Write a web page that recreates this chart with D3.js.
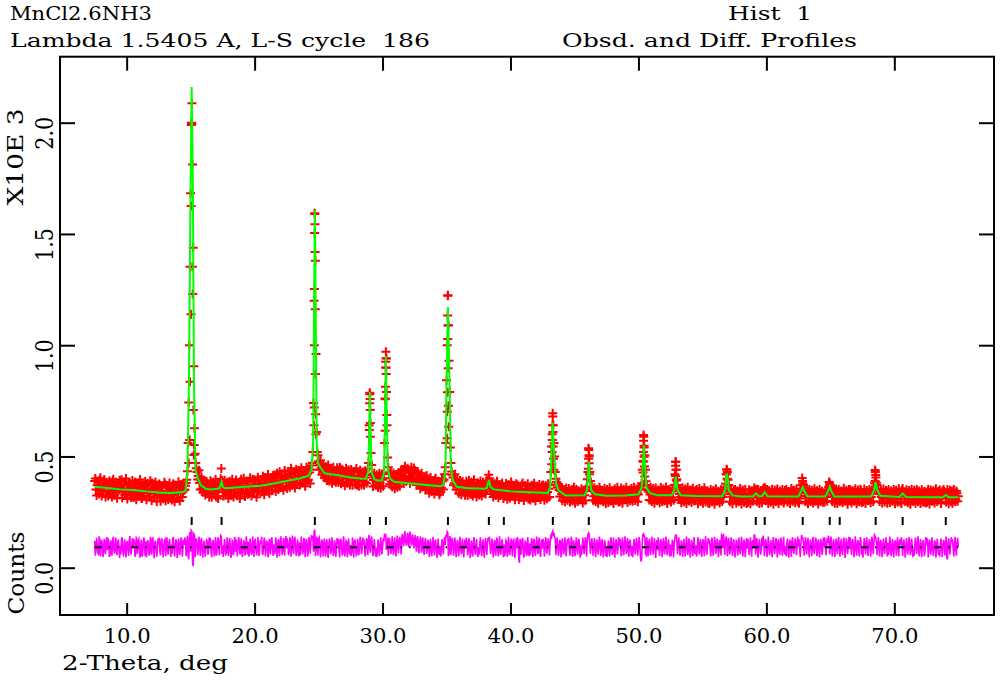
<!DOCTYPE html>
<html>
<head>
<meta charset="utf-8">
<script src="https://cdn.jsdelivr.net/npm/d3@7"></script>
<style>
  body { margin: 0; background: #fff; }
  text { font-family: "DejaVu Serif", "Liberation Serif", serif; white-space: pre; fill: #000; }
</style>
</head>
<body>
<script>
// 2-theta range and counts range of the frame
const tthMin = 4.79, tthMax = 77.79;
const cntMin = -212.6, cntMax = 2296.6;

// observed counts, one row per degree, 0.1 deg step, rows start at 7.5, 8.5, ...
const obsStart = 7.5, obsStep = 0.1;
const obsRows = [
  [390, 352, 371, 348, 395, 360, 377, 341, 366, 384],
  [345, 372, 330, 361, 388, 352, 367, 339, 376, 349],
  [362, 395, 341, 356, 328, 371, 350, 383, 337, 360],
  [344, 369, 323, 358, 377, 339, 352, 311, 366, 348],
  [372, 336, 355, 320, 347, 381, 333, 359, 342, 326],
  [351, 318, 366, 340, 329, 374, 345, 322, 357, 333],
  [348, 371, 326, 343, 360, 315, 352, 338, 365, 341],
  [352, 368, 395, 560, 1000, 1683, 2087, 1438, 627, 470],
  [430, 412, 381, 398, 355, 372, 340, 361, 377, 336],
  [358, 329, 370, 349, 362, 318, 375, 352, 380, 446],
  [366, 341, 359, 330, 372, 348, 363, 327, 381, 352],
  [339, 370, 356, 384, 333, 361, 348, 379, 342, 366],
  [387, 351, 372, 340, 364, 395, 358, 343, 376, 361],
  [382, 347, 371, 398, 360, 386, 352, 377, 405, 369],
  [391, 364, 402, 380, 371, 410, 388, 362, 399, 415],
  [383, 408, 372, 421, 396, 385, 430, 401, 376, 412],
  [425, 398, 417, 389, 436, 404, 420, 395, 428, 440],
  [470, 740, 1590, 960, 520, 478, 462, 449, 441, 430],
  [410, 436, 398, 429, 442, 405, 420, 391, 433, 416],
  [428, 395, 447, 410, 384, 422, 401, 436, 412, 393],
  [419, 388, 405, 431, 396, 372, 414, 403, 425, 390],
  [412, 386, 405, 421, 470, 780, 515, 417, 394, 408],
  [386, 371, 399, 382, 403, 395, 428, 760, 940, 495],
  [421, 402, 386, 410, 393, 378, 404, 389, 415, 398],
  [420, 401, 433, 408, 395, 441, 412, 426, 399, 417],
  [404, 389, 421, 376, 398, 410, 384, 365, 392, 379],
  [358, 386, 370, 347, 381, 362, 394, 353, 368, 340],
  [375, 359, 388, 395, 452, 842, 1225, 930, 540, 432],
  [405, 379, 392, 366, 381, 352, 374, 360, 339, 368],
  [351, 377, 343, 362, 330, 359, 371, 346, 364, 338],
  [357, 372, 349, 363, 336, 368, 355, 377, 418, 372],
  [343, 361, 329, 355, 370, 338, 350, 324, 362, 345],
  [356, 331, 367, 340, 322, 352, 344, 371, 329, 348],
  [335, 360, 318, 349, 372, 337, 326, 354, 341, 309],
  [356, 330, 345, 368, 321, 347, 338, 360, 315, 343],
  [329, 352, 337, 361, 340, 355, 372, 545, 694, 560],
  [430, 385, 362, 349, 367, 331, 344, 318, 339, 327],
  [341, 312, 329, 350, 319, 305, 336, 322, 345, 316],
  [332, 319, 343, 326, 351, 398, 537, 430, 362, 345],
  [321, 338, 310, 334, 327, 349, 306, 330, 318, 341],
  [325, 309, 337, 318, 344, 302, 331, 320, 339, 314],
  [328, 347, 311, 333, 322, 340, 307, 326, 349, 318],
  [331, 316, 343, 325, 338, 329, 352, 366, 440, 596],
  [505, 388, 352, 341, 329, 346, 318, 337, 323, 340],
  [312, 333, 321, 347, 308, 329, 340, 316, 335, 322],
  [338, 315, 344, 372, 476, 398, 352, 331, 318, 340],
  [312, 335, 321, 346, 307, 329, 318, 339, 326, 301],
  [331, 315, 342, 323, 308, 336, 319, 345, 312, 328],
  [337, 317, 330, 303, 325, 341, 314, 333, 322, 310],
  [329, 318, 341, 377, 442, 395, 347, 331, 319, 336],
  [311, 328, 342, 305, 324, 317, 338, 309, 330, 321],
  [313, 335, 318, 327, 344, 322, 338, 351, 316, 329],
  [319, 308, 326, 335, 356, 331, 316, 327, 305, 322],
  [338, 312, 325, 343, 306, 321, 334, 317, 329, 300],
  [324, 340, 315, 331, 319, 346, 309, 327, 336, 318],
  [325, 311, 343, 403, 372, 336, 322, 340, 314, 329],
  [317, 335, 304, 326, 343, 312, 329, 320, 338, 308],
  [323, 334, 318, 347, 385, 370, 339, 321, 331, 310],
  [326, 343, 315, 330, 307, 322, 339, 318, 333, 324],
  [311, 328, 342, 320, 305, 333, 317, 336, 325, 346],
  [314, 330, 321, 339, 308, 327, 341, 318, 333, 352],
  [439, 382, 346, 331, 339, 318, 329, 311, 334, 322],
  [340, 315, 327, 306, 331, 319, 344, 312, 325, 337],
  [329, 348, 339, 321, 310, 332, 317, 338, 302, 326],
  [314, 331, 320, 341, 306, 325, 312, 336, 318, 298],
  [329, 343, 311, 324, 335, 309, 320, 339, 315, 328],
  [306, 333, 319, 327, 342, 322, 312, 337, 318, 330],
  [344, 313, 326, 309, 335, 321]
];

// the in-between observed points, rows start at 7.55, 8.55, ...
const obsStartB = 7.55;
const obsRowsB = [
  [401, 325, 388, 331, 404, 322, 359, 396, 318, 379],
  [322, 391, 345, 318, 397, 326, 384, 312, 366, 393],
  [389, 314, 372, 328, 401, 309, 381, 339, 316, 392],
  [316, 384, 305, 379, 331, 396, 312, 373, 322, 387],
  [305, 378, 319, 391, 302, 366, 314, 385, 297, 371],
  [376, 299, 362, 310, 384, 301, 369, 306, 381, 311],
  [304, 377, 296, 369, 312, 386, 300, 374, 318, 380],
  [349, 381, 433, 742, 1353, 1990, 1812, 905, 512, 447],
  [396, 438, 352, 405, 339, 393, 327, 387, 345, 318],
  [391, 317, 384, 330, 396, 341, 311, 377, 400, 392],
  [322, 393, 335, 384, 311, 389, 326, 398, 318, 375],
  [394, 323, 381, 311, 397, 336, 402, 320, 388, 330],
  [331, 404, 322, 397, 339, 388, 317, 406, 344, 395],
  [340, 411, 328, 405, 352, 419, 334, 398, 346, 414],
  [417, 343, 425, 352, 431, 360, 414, 348, 437, 366],
  [356, 432, 362, 447, 371, 425, 358, 441, 378, 438],
  [372, 449, 381, 437, 366, 452, 389, 444, 378, 459],
  [520, 1200, 1380, 610, 505, 440, 482, 418, 466, 404],
  [455, 392, 461, 388, 447, 379, 452, 401, 384, 449],
  [383, 451, 377, 440, 426, 368, 447, 380, 439, 372],
  [441, 370, 433, 375, 446, 429, 366, 438, 372, 430],
  [372, 436, 380, 445, 640, 650, 462, 365, 425, 371],
  [418, 360, 424, 357, 421, 366, 560, 900, 640, 452],
  [375, 431, 364, 426, 355, 419, 362, 428, 366, 436],
  [441, 378, 456, 389, 447, 432, 380, 452, 391, 448],
  [437, 372, 431, 398, 355, 424, 364, 406, 349, 414],
  [398, 335, 405, 342, 391, 331, 402, 346, 389, 328],
  [340, 402, 352, 420, 560, 1000, 1090, 790, 470, 418],
  [371, 420, 350, 398, 333, 392, 328, 389, 372, 326],
  [388, 324, 392, 331, 384, 322, 395, 336, 318, 381],
  [327, 390, 322, 384, 371, 331, 393, 380, 402, 352],
  [383, 318, 379, 325, 388, 314, 372, 334, 381, 311],
  [320, 378, 308, 374, 313, 385, 323, 366, 305, 377],
  [372, 307, 366, 315, 381, 302, 369, 318, 377, 311],
  [304, 371, 312, 379, 300, 366, 315, 374, 306, 368],
  [372, 303, 369, 310, 377, 318, 430, 600, 640, 500],
  [400, 360, 376, 320, 358, 301, 352, 296, 358, 303],
  [356, 295, 348, 301, 361, 290, 353, 298, 344, 304],
  [355, 291, 349, 302, 360, 430, 500, 390, 365, 303],
  [359, 297, 352, 290, 361, 304, 348, 296, 357, 289],
  [352, 293, 359, 300, 346, 288, 355, 303, 361, 295],
  [298, 358, 290, 351, 306, 362, 293, 347, 301, 356],
  [299, 361, 302, 355, 296, 363, 355, 380, 480, 540],
  [440, 372, 349, 304, 362, 298, 356, 290, 358, 302],
  [349, 292, 360, 297, 354, 301, 363, 289, 351, 305],
  [295, 357, 303, 420, 440, 372, 306, 355, 292, 359],
  [296, 354, 288, 361, 300, 349, 293, 357, 302, 346],
  [351, 287, 356, 297, 348, 290, 359, 295, 345, 292],
  [289, 352, 296, 347, 285, 355, 300, 344, 291, 350],
  [297, 349, 360, 420, 430, 372, 296, 353, 287, 349],
  [351, 290, 345, 298, 356, 286, 349, 294, 353, 288],
  [293, 350, 287, 346, 300, 358, 345, 296, 352, 289],
  [347, 292, 355, 362, 301, 351, 288, 346, 294, 353],
  [286, 349, 297, 354, 289, 345, 300, 352, 291, 347],
  [351, 295, 343, 288, 356, 299, 348, 292, 355, 297],
  [290, 353, 370, 380, 360, 296, 349, 287, 351, 298],
  [348, 291, 355, 299, 346, 286, 352, 297, 344, 293],
  [295, 350, 300, 362, 380, 362, 296, 349, 290, 354],
  [288, 352, 298, 345, 292, 357, 300, 348, 285, 351],
  [350, 291, 346, 299, 355, 287, 349, 296, 353, 293],
  [296, 354, 289, 347, 301, 352, 292, 349, 298, 380],
  [417, 372, 352, 298, 349, 291, 354, 295, 347, 290],
  [351, 293, 345, 299, 352, 287, 348, 294, 355, 296],
  [289, 356, 340, 297, 350, 292, 347, 285, 353, 299],
  [348, 290, 352, 296, 345, 288, 350, 294, 343, 291],
  [294, 353, 286, 349, 299, 346, 291, 355, 297, 344],
  [349, 289, 344, 352, 339, 295, 351, 287, 348, 296],
  [290, 352, 297, 345, 299]
];

const obsPeakPts = [
  [15.06, 2000], [15.09, 1995], [15.04, 1626], [15.14, 1353], [15.03, 1139], [15.16, 1230],
  [14.95, 836], [15.22, 709], [14.92, 574], [15.25, 506], [14.85, 470], [15.27, 551],
  [24.70, 1593], [24.72, 1544], [24.69, 1504], [24.73, 1419], [24.68, 1252], [24.74, 1162],
  [24.67, 1000], [24.75, 870], [24.66, 720], [24.77, 690], [24.64, 640], [24.79, 600],
  [29.00, 786], [29.03, 758], [28.99, 739], [29.04, 709], [28.97, 619], [29.05, 589],
  [30.26, 971], [30.28, 941], [30.25, 926], [30.27, 899], [30.29, 870], [30.22, 813],
  [30.31, 790], [30.21, 757], [30.33, 686], [30.20, 616],
  [35.11, 1222], [35.09, 1134], [35.12, 1088], [35.10, 1028], [35.13, 896], [35.07, 788],
  [35.15, 728], [35.06, 701], [35.17, 634], [35.05, 582],
  [43.30, 680], [43.28, 640], [43.32, 610], [43.27, 574], [43.34, 545], [43.25, 520],
  [43.36, 490], [43.23, 465], [43.39, 440],
  [46.12, 529], [46.14, 505], [46.10, 490], [46.15, 469], [46.09, 445], [46.17, 420],
  [50.42, 589], [50.40, 570], [50.44, 548], [50.39, 520], [50.45, 499], [50.38, 476],
  [50.47, 455], [50.36, 428], [50.49, 410],
  [52.92, 476], [52.90, 458], [52.94, 440], [52.89, 412], [52.96, 392],
  [56.90, 440], [56.88, 420], [56.93, 400],
  [62.83, 390], [64.96, 372],
  [68.52, 430], [68.56, 405], [68.50, 390]
];

// calculated profile [2theta, counts]
const calcPts = [
  [7.5, 364], [8.5, 358], [9.5, 352], [10.5, 349], [11.5, 343], [12.5, 338], [13.5, 336], [14.4, 340],
  [14.6, 345], [14.75, 430], [14.87, 840], [14.99, 1680], [15.08, 2160], [15.18, 1680], [15.26, 840],
  [15.38, 440], [15.57, 400], [15.81, 370],
  [16.2, 355], [16.6, 352], [17.2, 356], [17.3, 365], [17.42, 387], [17.52, 362], [17.7, 357],
  [18.5, 360], [19.5, 365], [20.5, 368], [21.5, 378], [22.5, 390], [23.5, 401], [24.2, 412],
  [24.45, 440], [24.58, 570], [24.65, 1200], [24.71, 1606], [24.77, 1200], [24.85, 570],
  [24.95, 470], [25.15, 450], [25.45, 425],
  [26.5, 416], [27.5, 405], [28.3, 401], [28.7, 400],
  [28.88, 430], [28.95, 600], [29.01, 790], [29.07, 600], [29.15, 430], [29.35, 398], [29.6, 392],
  [29.95, 392], [30.12, 430], [30.19, 680], [30.26, 950], [30.33, 680], [30.41, 440], [30.6, 400], [30.9, 386],
  [32, 380], [33, 374], [34.5, 366], [34.75, 372],
  [34.92, 440], [34.99, 800], [35.11, 1170], [35.25, 800], [35.33, 460], [35.5, 390], [35.8, 364],
  [36.5, 358], [37.9, 355], [38.15, 358], [38.31, 394], [38.45, 362], [38.7, 352], [40, 343], [41, 340], [42.9, 336],
  [43.10, 360], [43.18, 476], [43.29, 652], [43.45, 476], [43.55, 380], [43.75, 348], [44.3, 324],
  [45.8, 326], [45.98, 350], [46.05, 410], [46.12, 476], [46.2, 410], [46.3, 350], [46.6, 330],
  [47.5, 323], [49, 324], [50, 330], [50.25, 360], [50.33, 450], [50.42, 551], [50.52, 450],
  [50.62, 360], [50.9, 335], [51.5, 326],
  [52.6, 326], [52.8, 350], [52.92, 409], [53.05, 350], [53.3, 326], [54.5, 322], [56.55, 321],
  [56.78, 350], [56.84, 400], [56.9, 424], [56.98, 400], [57.05, 350], [57.35, 325], [58.0, 320],
  [58.95, 320], [59.17, 334], [59.4, 321], [59.65, 322], [59.87, 339], [60.1, 321], [62.5, 320],
  [62.72, 345], [62.84, 361], [62.96, 345], [63.2, 321], [64.6, 320], [64.83, 345], [64.95, 364],
  [65.07, 345], [65.3, 320], [68.2, 320],
  [68.42, 350], [68.54, 384], [68.66, 350], [68.9, 323], [70.4, 318], [70.65, 334], [70.9, 318],
  [73.8, 317], [74.02, 327], [74.25, 317], [75, 317]
];

// obs - calc, same grid as obsRows
const diffRows = [
  [28, -15, 9, -31, 35, -4, 18, -22, 6, 24],
  [-12, 17, -35, 5, 31, -8, 13, -19, 22, -6],
  [8, 38, -16, 3, -27, 19, -5, 30, -14, 7],
  [-3, 24, -29, 12, 33, -9, 6, -42, 21, 2],
  [27, -10, 14, -24, 5, 38, -13, 17, 0, -18],
  [13, -21, 29, 2, -11, 36, 7, -17, 20, -4],
  [12, 35, -11, 6, 23, -25, 15, 0, 28, 3],
  [10, 18, 25, -35, 40, -20, 70, -85, 55, 30],
  [12, -6, 14, 28, -15, 9, -20, 4, 21, -18],
  [5, -26, 17, -3, 11, -37, 22, 0, 25, 48],
  [9, -16, 3, -28, 15, -9, 6, -31, 24, -5],
  [-20, 11, -4, 26, -25, 3, -12, 20, -17, 8],
  [25, -14, 9, -27, 0, 31, -6, -22, 13, -3],
  [15, -24, 2, 28, -10, 17, -19, 5, 33, -2],
  [12, -18, 23, 1, -9, 30, 6, -22, 15, 31],
  [-6, 18, -21, 29, 3, -9, 36, 4, -20, 10],
  [22, -7, 11, -19, 30, -3, 12, -14, 19, 28],
  [35, -20, 78, -15, 20, 38, 14, -8, 22, 5],
  [-12, 16, -24, 9, 21, -15, 2, -27, 14, -1],
  [13, -19, 33, -4, -26, 10, -8, 25, 2, -15],
  [11, -20, 0, 27, -8, -30, 12, 1, 22, -13],
  [10, -16, 4, 18, 40, -10, 35, 8, -9, 6],
  [-3, -18, 9, -8, 14, 6, 26, 50, -12, 38],
  [19, 3, -12, 16, 2, -10, 20, 5, 31, 13],
  [38, 20, 51, 24, 12, 58, 30, 44, 17, 35],
  [27, 11, 42, -2, 21, 34, 9, -10, 19, 6],
  [-9, 20, 4, -18, 15, -3, 28, -12, 3, -25],
  [5, -11, 16, 20, 10, 45, 65, -30, 40, 25],
  [15, -8, 9, -4, 17, -10, 12, 0, -19, 13],
  [-5, 21, -13, 6, -26, 3, 15, -10, 8, -18],
  [1, 16, -7, 9, -20, 12, -1, 20, 30, 8],
  [-7, 13, -20, 7, 24, -10, 4, -23, 16, -1],
  [12, -14, 25, -2, -19, 10, 3, 29, -12, 7],
  [-5, 20, -70, 9, 32, -3, -14, 15, 1, -33],
  [18, -8, 7, 31, -15, 10, 1, 23, -22, 6],
  [-6, 15, 0, 24, 3, 16, 20, 45, 72, 60],
  [35, 15, -2, 4, 25, -6, 10, -14, 8, 1],
  [17, -12, 5, 26, -5, -19, 12, -2, 21, -8],
  [8, -5, 18, 0, 24, 30, 65, 10, 12, 15],
  [-6, 13, -15, 9, 2, 24, -19, 6, -6, 17],
  [2, -14, 14, -5, 21, -21, 8, -3, 16, -9],
  [5, 23, -13, 9, -2, 16, -18, 3, 25, -6],
  [6, -9, 18, 0, 12, 1, 24, -64, 20, 60],
  [45, -35, 18, 6, -4, 13, -7, 12, -2, 15],
  [-13, 8, -4, 22, -17, 4, 15, -9, 10, -3],
  [12, -11, 18, 20, 55, 30, 2, 5, -7, 15],
  [-13, 10, -4, 21, -18, 4, -7, 14, 1, -24],
  [9, -7, 20, 1, -14, 16, -3, 23, -10, 6],
  [17, -3, 10, -19, 5, 21, -6, 13, 2, -10],
  [55, -3, 16, 25, 35, -15, 5, 8, -4, 12],
  [-13, 4, 18, -17, 2, -5, 16, -11, 10, 1],
  [-7, 15, -4, 5, 22, -6, 50, 13, -6, 7],
  [-1, -12, 4, 12, 20, 10, -4, 7, -15, 2],
  [18, -8, 5, 23, -14, 1, 14, -3, 9, -20],
  [4, 20, -5, 11, -1, 26, -11, 7, 16, -2],
  [5, -9, 15, 45, 20, 10, 2, 20, -6, 9],
  [-3, 15, -16, 6, 23, -8, 9, 0, 18, -12],
  [3, 14, -2, 20, 25, 10, 12, 1, 11, -10],
  [6, 23, -5, 10, -13, 2, 19, -2, 13, 4],
  [-9, 8, 22, 0, -15, 13, -3, 16, 5, 26],
  [-6, 10, 1, 19, -12, 7, 21, -2, 13, 20],
  [50, 25, 10, 9, 18, -2, 9, -9, 14, 2],
  [20, -5, 7, -14, 11, -1, 24, -8, 5, 17],
  [9, 18, 10, 1, -8, 12, -3, 18, -18, 6],
  [-6, 11, 0, 21, -14, 5, -8, 16, -2, -22],
  [9, 23, -9, 4, 15, -11, 0, 19, -5, 8],
  [-14, 13, -1, 7, 22, 2, -48, 17, -2, 10],
  [24, -7, 6, -11, 15, 1]
];

// obs - calc at the in-between points (obsRowsB grid)
const diffRowsB = [
  [-38, 42, -27, 49, -41, 33, -45, 38, -30, 46],
  [40, -44, 31, -38, 47, -29, 43, -36, 35, -48],
  [-33, 45, -41, 36, -46, 28, -39, 50, -32, 41],
  [37, -43, 48, -30, 39, -47, 34, -36, 44, -40],
  [-45, 32, -38, 47, -34, 41, -49, 30, -42, 39],
  [43, -36, 40, -46, 31, -40, 45, -33, 38, -44],
  [-30, 46, -42, 35, -48, 39, -35, 44, -41, 33],
  [45, -40, 52, -55, 68, 75, -70, 60, -45, 40],
  [-36, 48, -39, 42, -47, 30, -43, 38, -34, 45],
  [41, -45, 33, -40, 46, -31, 44, -37, 52, -30],
  [-44, 37, -32, 45, -39, 42, -48, 29, -36, 47],
  [35, -41, 46, -33, 40, -45, 31, -38, 49, -34],
  [-42, 39, -30, 48, -44, 34, -37, 46, -40, 32],
  [47, -35, 43, -41, 30, -46, 38, -32, 45, -39],
  [-31, 44, -47, 36, -40, 49, -34, 41, -38, 50],
  [40, -36, 45, -43, 52, -30, 47, -39, 35, -42],
  [-37, 48, -33, 41, -45, 38, -41, 46, -29, 55],
  [50, 70, -40, 48, -38, 44, -46, 35, -41, 39],
  [-43, 36, -48, 40, -31, 45, -39, 32, -44, 41],
  [38, -46, 35, -37, 49, -42, 30, -45, 40, -33],
  [-39, 43, -47, 34, -41, 38, -36, 47, -30, 44],
  [36, -42, 40, -35, 55, -25, 48, -40, 37, -41],
  [-44, 34, -39, 45, -32, 41, 55, 60, 35, -38],
  [42, -30, 49, -36, 45, -41, 52, -28, 47, -33],
  [60, 5, 72, 10, 65, 0, 70, 8, 58, -5],
  [55, -20, 50, -28, 47, -25, 44, -35, 41, -30],
  [34, -44, 38, -40, 46, -37, 31, -48, 39, -35],
  [-41, 36, -33, 45, 55, 70, -40, 50, -35, 42],
  [-38, 44, -45, 33, -40, 47, -31, 39, -46, 35],
  [43, -37, 41, -48, 30, -42, 46, -34, 38, -44],
  [-32, 45, -40, 36, -47, 41, -35, 42, 48, -30],
  [39, -46, 33, -38, 44, -41, 49, -33, 36, -45],
  [-40, 31, -44, 47, -36, 39, -42, 34, -48, 40],
  [45, -55, 38, -34, 42, -47, 30, -40, 46, -36],
  [-33, 41, -45, 37, -39, 48, -31, 43, -44, 35],
  [38, -42, 46, -30, 40, -37, 50, 65, 55, 48],
  [-35, 44, -39, 33, -46, 40, -32, 45, -41, 37],
  [42, -38, 47, -44, 31, -40, 45, -34, 39, -47],
  [-36, 43, -30, 46, -41, 55, 60, -30, 40, -38],
  [41, -45, 35, -33, 48, -39, 37, -46, 32, -40],
  [-44, 30, -41, 45, -35, 43, -47, 36, -32, 46],
  [38, -40, 44, -37, 49, -31, 41, -43, 34, -39],
  [-45, 37, -34, 42, -38, 46, -40, -55, 58, 50],
  [-30, 45, -42, 39, -36, 47, -33, 41, -48, 32],
  [44, -39, 36, -45, 41, -32, 48, -37, 35, -43],
  [-40, 33, -46, 42, 55, -30, 45, -38, 31, -44],
  [37, -43, 48, -35, 40, -47, 32, -39, 46, -31],
  [-42, 45, -33, 38, -44, 36, -40, 49, -34, 41],
  [35, -41, 44, -38, 47, -30, 39, -45, 33, -37],
  [50, 60, -35, 48, -40, 42, -33, 45, -39, 36],
  [-46, 34, -38, 43, -31, 47, -42, 35, -45, 40],
  [39, -36, 45, -43, 32, 58, -34, 41, -47, 38],
  [-33, 42, 52, -40, 36, -44, 48, -37, 31, -45],
  [46, -30, 41, -46, 38, -35, 44, -39, 47, -32],
  [-41, 39, -47, 34, -43, 45, -30, 40, -36, 48],
  [37, -44, 55, 40, -38, 46, -33, 42, -45, 35],
  [-39, 47, -31, 44, -40, 36, -46, 38, -34, 43],
  [45, -37, 40, 52, -33, 48, -41, 35, -44, 39],
  [-32, 46, -42, 38, -36, 44, -48, 41, -30, 47],
  [43, -35, 37, -45, 49, -38, 32, -41, 46, -34],
  [-47, 41, -33, 45, -39, 36, -43, 48, -31, 55],
  [40, -36, 46, -42, 33, -45, 39, -30, 44, -41],
  [-35, 48, -40, 37, -46, 31, -38, 45, -42, 36],
  [44, -39, 34, -47, 41, -33, 46, -36, 39, -45],
  [-38, 43, -30, 49, -41, 37, -44, 32, -40, 46],
  [41, -46, 36, -34, 45, -40, 31, -47, 38, -35],
  [-43, 39, -45, 33, -37, 48, -55, 40, -32, 44],
  [36, -41, 47, -38, 42]
];
// difference curve is drawn shifted up by this many counts
const diffOffset = 92;

// reflection positions, 2theta
const reflPos = [15.08, 17.42, 24.71, 29.01, 30.26, 35.11, 38.31, 39.48, 43.31, 46.12, 50.42,
  52.92, 53.62, 56.90, 59.17, 59.87, 62.84, 64.95, 65.73, 68.54, 70.65, 74.02];
const reflLevel = 210;

// tick values
const xTicks = [10, 20, 30, 40, 50, 60, 70];
const yTicks = [0, 500, 1000, 1500, 2000];

//画布
const width = 1000;
const height = 680;
const frame = { left: 60, right: 994, top: 56.7, bottom: 615 };

const svg = d3
  .select('body')
  .append('svg')
  .attr('width', width)
  .attr('height', height);

const x = d3.scaleLinear().domain([tthMin, tthMax]).range([frame.left, frame.right]);
const y = d3.scaleLinear().domain([cntMin, cntMax]).range([frame.bottom, frame.top]);

// flatten grid rows into [2theta, value] points
function gridPoints(rows, start) {
  return rows.flatMap(function(row, r) {
    return row.map(function(v, i) {
      return [+(start + r + i * obsStep).toFixed(2), v];
    });
  });
}
const obs = gridPoints(obsRows, obsStart).concat(gridPoints(obsRowsB, obsStartB), obsPeakPts);
const diff = d3.sort(
  gridPoints(diffRows, obsStart).concat(gridPoints(diffRowsB, obsStartB)),
  d => d[0]
);

// observed: red crosses
svg
  .append('g')
  .attr('stroke', '#ff0000')
  .attr('stroke-width', 2)
  .attr('fill', 'none')
  .selectAll('path')
  .data(obs)
  .join('path')
  .attr('d', function(d) {
    const px = x(d[0]), py = y(d[1]);
    return 'M' + (px - 4.5) + ',' + py + 'h9M' + px + ',' + (py - 4.5) + 'v9';
  });

// calculated: green line
svg
  .append('path')
  .datum(calcPts)
  .attr('d', d3.line().x(d => x(d[0])).y(d => y(d[1])))
  .attr('fill', 'none')
  .attr('stroke', '#00ff00')
  .attr('stroke-width', 2);

// reflection markers
svg
  .append('g')
  .attr('stroke', '#000')
  .attr('stroke-width', 2)
  .selectAll('line')
  .data(reflPos)
  .join('line')
  .attr('x1', d => x(d))
  .attr('x2', d => x(d))
  .attr('y1', y(reflLevel) - 4)
  .attr('y2', y(reflLevel) + 4);

// difference: magenta
svg
  .append('path')
  .datum(diff)
  .attr('d', d3.line().x(d => x(d[0])).y(d => y(d[1] + diffOffset)))
  .attr('fill', 'none')
  .attr('stroke', '#ff00ff')
  .attr('stroke-width', 1.6);

// zero line of the difference curve
svg
  .append('line')
  .attr('x1', x(obsStart))
  .attr('x2', x(diff[diff.length - 1][0]))
  .attr('y1', y(diffOffset))
  .attr('y2', y(diffOffset))
  .attr('stroke', '#000')
  .attr('stroke-width', 2)
  .attr('stroke-dasharray', '7,7,1.5,7,1.5,12.5');

// frame
svg
  .append('rect')
  .attr('x', frame.left)
  .attr('y', frame.top)
  .attr('width', frame.right - frame.left)
  .attr('height', frame.bottom - frame.top)
  .attr('fill', 'none')
  .attr('stroke', '#000')
  .attr('stroke-width', 2);

// inward ticks on all four sides
function styleAxis(g) {
  g.select('.domain').remove();
  g.selectAll('.tick line').attr('stroke', '#000').attr('stroke-width', 2);
}
svg
  .append('g')
  .attr('transform', 'translate(0,' + frame.bottom + ')')
  .call(d3.axisBottom(x).tickValues(xTicks).tickSize(-12).tickSizeOuter(0).tickFormat(d3.format('.1f')))
  .call(styleAxis)
  .call(g =>
    g
      .selectAll('.tick text')
      .attr('y', 27.7)
      .attr('dy', 0)
      .attr('font-size', 20)
      .attr('font-family', '"DejaVu Serif", serif')
      .attr('fill', '#000')
      .attr('textLength', 47)
      .attr('lengthAdjust', 'spacingAndGlyphs')
  );
svg
  .append('g')
  .attr('transform', 'translate(0,' + frame.top + ')')
  .call(d3.axisTop(x).tickValues(xTicks).tickSize(-14).tickSizeOuter(0).tickFormat(''))
  .call(styleAxis);
svg
  .append('g')
  .attr('transform', 'translate(' + frame.left + ',0)')
  .call(d3.axisLeft(y).tickValues(yTicks).tickSize(-15).tickSizeOuter(0).tickFormat(''))
  .call(styleAxis);
svg
  .append('g')
  .attr('transform', 'translate(' + frame.right + ',0)')
  .call(d3.axisRight(y).tickValues(yTicks).tickSize(-15).tickSizeOuter(0).tickFormat(''))
  .call(styleAxis);

// y labels, rotated like the original plot
svg
  .selectAll('.ylab')
  .data(yTicks)
  .join('text')
  .attr('class', 'ylab')
  .attr('transform', d => 'translate(53,' + (y(d) - 6) + ') rotate(-90)')
  .attr('text-anchor', 'end')
  .attr('font-size', 24)
  .attr('textLength', 33)
  .attr('lengthAdjust', 'spacingAndGlyphs')
  .text(d => (d / 1000).toFixed(1));

function label(str, tx, ty, size, len, rot) {
  const t = svg
    .append('text')
    .attr('font-size', size)
    .attr('textLength', len)
    .attr('lengthAdjust', 'spacingAndGlyphs')
    .text(str);
  if (rot) {
    t.attr('transform', 'translate(' + tx + ',' + ty + ') rotate(-90)').attr('text-anchor', 'middle');
  } else {
    t.attr('x', tx).attr('y', ty);
  }
  return t;
}

label('MnCl2.6NH3', 10, 19.5, 18, 142);
label('Lambda 1.5405 A, L-S cycle  186', 10, 47, 19, 420);
label('Hist  1', 728, 20, 18, 84);
label('Obsd. and Diff. Profiles', 562, 47, 19, 295);
label('2-Theta, deg', 62, 670, 20, 166);
label('X10E 3', 23.3, 157, 23, 97, true);
label('Counts', 24, 573, 23, 83, true);
</script>
</body>
</html>
